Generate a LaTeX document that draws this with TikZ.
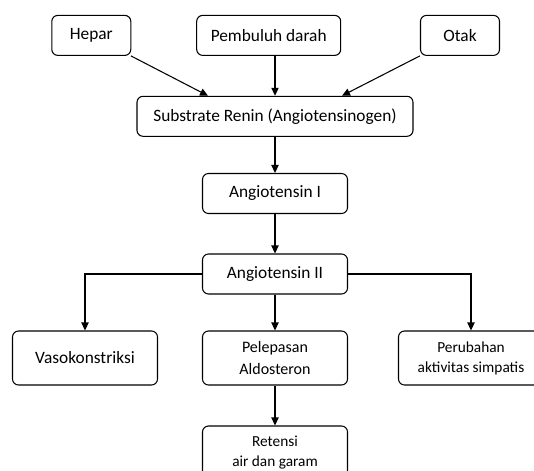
\documentclass[tikz,border=0pt]{standalone}
\usepackage{fontspec}
\setmainfont{Carlito}
\usepackage{tikz}
\usetikzlibrary{arrows.meta,positioning}
\usetikzlibrary{calc}
\tikzset{
 >={Triangle[length=6pt,width=5.5pt]},
 box/.style={draw, line width=0.8pt, rounded corners=4.5pt, align=center,
   inner sep=0pt, minimum height=30pt, font=\fontsize{13}{15.6}\selectfont},
 tallbox/.style={box, minimum width=108.75pt, minimum height=40.5pt},
 smalltext/.style={font=\fontsize{11.5}{15}\selectfont}
}

\begin{document}
\begin{tikzpicture}[x=0.75pt,y=-0.75pt]

\path[use as bounding box, clip] (0,0) rectangle (534,470);

\path (91.3,35.4) node[name=hepar, box, minimum width=59.25pt] {Hepar};
\path (268.7,35.4) node[name=pembuluh, box, minimum width=108pt] {Pembuluh darah};
\path (460,35.4) node[name=otak, box, minimum width=59.25pt] {Otak};

\path (275,116.3) node[name=substrate, box, minimum width=207pt] {Substrate Renin (Angiotensinogen)};
\path (275,193.5) node[name=angI, box, minimum width=108.75pt] {Angiotensin I};
\path (275,274) node[name=angII, box, minimum width=108.75pt] {Angiotensin II};

\path (85,358) node[name=vaso, tallbox] {Vasokonstriksi};
\path (275,358) node[name=aldo, tallbox, font=\fontsize{12}{16}\selectfont] {Pelepasan\\Aldosteron};
\path (471,358) node[name=simpatis, tallbox, smalltext] {Perubahan\\aktivitas simpatis};
\path (275,453) node[name=retensi, tallbox, smalltext] {Retensi\\air dan garam};

\path[->,line width=0.8pt] (hepar) edge ($(substrate.north)+(-67,0)$);
\path[->,line width=0.8pt] (pembuluh.south -| substrate) edge (substrate);
\path[->,line width=0.8pt] (otak) edge ($(substrate.north)+(67,0)$);

\path[->,line width=0.8pt] (substrate) edge (angI);
\path[->,line width=0.8pt] (angI) edge (angII);

\draw[->,line width=0.8pt] (angII.west) -| (vaso.north);
\draw[->,line width=0.8pt] (angII.east) -| (simpatis.north);
\path[->,line width=0.8pt] (angII) edge (aldo);
\path[->,line width=0.8pt] (aldo) edge (retensi);

\end{tikzpicture}
\end{document}
